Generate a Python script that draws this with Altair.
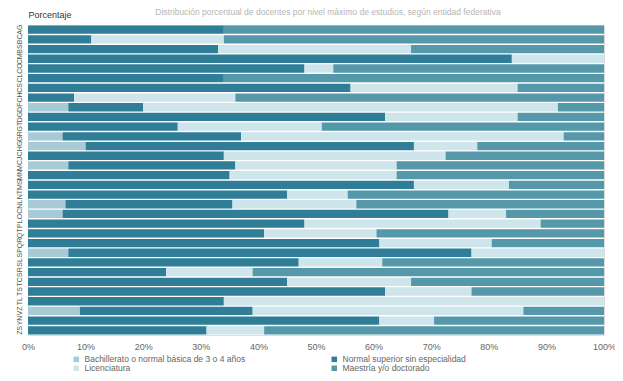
import altair as alt
import pandas as pd

estados = ["AG", "BC", "BS", "CM", "CO", "CL", "CS", "CH", "DF", "DG",
           "GT", "GR", "HG", "JC", "MC", "MN", "MS", "NT", "NL", "OC",
           "PL", "QT", "QR", "SP", "SL", "SR", "TC", "TS", "TL", "VZ",
           "YN", "ZS"]

categorias = ["Bachillerato o normal básica de 3 o 4 años",
              "Normal superior sin especialidad",
              "Licenciatura",
              "Maestría y/o doctorado"]

bachillerato = [0, 0, 0, 0, 0, 0, 0, 0, 7, 0, 0, 6, 10, 0, 7, 0,
                0, 0, 6.5, 6, 0, 0, 0, 7, 0, 0, 0, 0, 0, 9, 0, 0]
normal_sup = [34, 11, 33, 84, 48, 34, 56, 8, 13, 62, 26, 31, 57, 34, 29, 35,
              67, 45, 29, 67, 48, 41, 61, 70, 47, 24, 45, 62, 34, 30, 61, 31]
licenciatura = [0, 23, 33.5, 16, 5, 0, 29, 28, 72, 23, 25, 56, 11, 38.5, 28, 29,
                16.5, 10.5, 21.5, 10, 41, 19.5, 19.5, 23, 14.5, 15, 21.5, 15, 66, 47, 9.5, 10]
maestria = [66, 66, 33.5, 0, 47, 66, 15, 64, 8, 15, 49, 7, 22, 27.5, 36, 36,
            16.5, 44.5, 43, 17, 11, 39.5, 19.5, 0, 38.5, 61, 33.5, 23, 0, 14, 29.5, 59]

colores = ["#a7cbd6", "#2f7d96", "#cde5eb", "#5598aa"]

titulo = "Distribución porcentual de docentes por nivel máximo de estudios, según entidad federativa"

series = [bachillerato, normal_sup, licenciatura, maestria]
rows = []
for ci, (cat, vals) in enumerate(zip(categorias, series)):
    for est, v in zip(estados, vals):
        rows.append({"estado": est, "categoria": cat, "valor": v, "orden": ci})
df = pd.DataFrame(rows)

bars = alt.Chart(df).mark_bar(strokeWidth=0).encode(
    y=alt.Y("estado:N", sort=estados,
            scale=alt.Scale(paddingInner=0.14, paddingOuter=0.05),
            axis=alt.Axis(title="Porcentaje", titleAngle=0, titleAlign="left",
                          titleBaseline="bottom", titleX=0, titleY=-6,
                          titleFontSize=9, titleFontWeight="normal", titleColor="#333333",
                          labelAngle=270, labelFontSize=7, labelColor="#555555",
                          labelPadding=6, ticks=False, domain=False)),
    x=alt.X("valor:Q", stack="normalize",
            scale=alt.Scale(domain=[0, 1], nice=False),
            axis=alt.Axis(title=None, format="%", values=[i / 10 for i in range(11)],
                          grid=False, domain=False, ticks=False, labelFontSize=9,
                          labelColor="#666666", labelPadding=7, labelFlush=False)),
    color=alt.Color("categoria:N",
                    scale=alt.Scale(domain=categorias, range=colores),
                    legend=alt.Legend(title=None, orient="none", legendX=44, legendY=330,
                                      values=[categorias[0], categorias[2], categorias[1], categorias[3]],
                                      columns=2, columnPadding=84, rowPadding=-1,
                                      symbolType="square", symbolSize=30,
                                      labelFontSize=8.5, labelColor="#666666",
                                      labelLimit=300)),
    order=alt.Order("orden:Q"),
    tooltip=["estado", "categoria", "valor"]
)

title_text = alt.Chart(pd.DataFrame({"t": [titulo]})).mark_text(
    fontSize=8.5, color="#b5b5b5", baseline="top", align="center"
).encode(text="t:N", x=alt.value(300), y=alt.value(-17))

chart = alt.layer(bars, title_text).properties(
    width=576, height=310,
    autosize=alt.AutoSizeParams(type="none"),
    padding={"left": 20, "top": 17, "right": 11, "bottom": 38}
).configure_view(stroke=None).configure(font="Liberation Sans")

chart.save("out.html", embed_options={"renderer": "svg", "actions": False})
